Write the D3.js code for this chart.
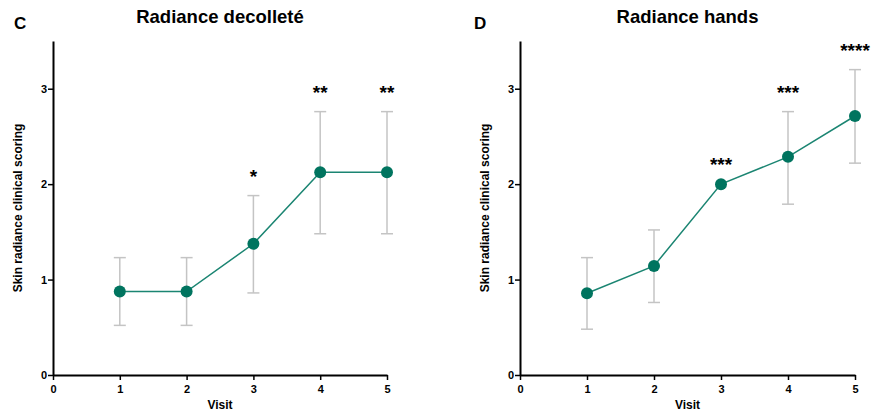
<!DOCTYPE html>
<html>
<head>
<meta charset="utf-8">
<script src="https://cdn.jsdelivr.net/npm/d3@7"></script>
<style>
  body { margin: 0; background: #fff; }
  svg { display: block; font-family: "Liberation Sans", Arial, sans-serif; }
</style>
</head>
<body>
<div id="chart"></div>
<script>
// visits on the x axis
var visits = [1, 2, 3, 4, 5];

// panel C - radiance decollete
var decolleteMean = [0.875, 0.875, 1.375, 2.125, 2.125];
var decolleteLow  = [0.52, 0.52, 0.86, 1.48, 1.48];
var decolleteHigh = [1.23, 1.23, 1.88, 2.76, 2.76];
var decolleteStars = ['', '', '*', '**', '**'];

// panel D - radiance hands
var handsMean = [0.857, 1.143, 2.0, 2.286, 2.714];
var handsLow  = [0.48, 0.76, 2.0, 1.79, 2.22];
var handsHigh = [1.23, 1.52, 2.0, 2.76, 3.2];
var handsStars = ['', '', '***', '***', '****'];

var xTicks = [0, 1, 2, 3, 4, 5];
var yTicks = [0, 1, 2, 3];

var width = 880, height = 413;
var svg = d3.select('#chart').append('svg')
	.attr('width', width)
	.attr('height', height);

var panels = [
	{ letter: 'C', title: 'Radiance decolleté', mean: decolleteMean, low: decolleteLow, high: decolleteHigh, stars: decolleteStars, left: 53, right: 387, letterX: 14, labelX: 18 },
	{ letter: 'D', title: 'Radiance hands', mean: handsMean, low: handsLow, high: handsHigh, stars: handsStars, left: 520, right: 855, letterX: 474, labelX: 485 }
];

var plotTop = 41, plotBottom = 375;
var teal = '#00745f';

panels.forEach(function (p) {
	var x = d3.scaleLinear().domain([0, 5]).range([p.left, p.right]);
	var y = d3.scaleLinear().domain([0, 3.5]).range([plotBottom, plotTop]);
	var g = svg.append('g');

	// axes
	var xAxis = g.append('g')
		.attr('transform', 'translate(0,' + plotBottom + ')')
		.call(d3.axisBottom(x).tickValues(xTicks).tickSize(5).tickSizeOuter(0).tickFormat(d3.format('d')));
	var yAxis = g.append('g')
		.attr('transform', 'translate(' + p.left + ',0)')
		.call(d3.axisLeft(y).tickValues(yTicks).tickSize(5).tickSizeOuter(0).tickFormat(d3.format('d')));

	[xAxis, yAxis].forEach(function (a) {
		a.select('.domain').attr('stroke', '#000').attr('stroke-width', 2);
		a.selectAll('.tick line').attr('stroke', '#000').attr('stroke-width', 1.5);
		a.selectAll('.tick text')
			.attr('fill', '#000')
			.style('font-size', '11px')
			.style('font-weight', 'bold');
	});
	xAxis.selectAll('.tick text').attr('dy', '0.9em');
	yAxis.selectAll('.tick text').attr('x', -6);

	// error bars
	var bars = g.selectAll('.err')
		.data(visits.map(function (v, i) { return { v: v, lo: p.low[i], hi: p.high[i] }; }))
		.enter().append('g')
		.filter(function (d) { return d.hi > d.lo; });
	bars.append('line')
		.attr('x1', function (d) { return x(d.v); })
		.attr('x2', function (d) { return x(d.v); })
		.attr('y1', function (d) { return y(d.lo); })
		.attr('y2', function (d) { return y(d.hi); })
		.attr('stroke', '#c4c4c4').attr('stroke-width', 1.5);
	['lo', 'hi'].forEach(function (k) {
		bars.append('line')
			.attr('x1', function (d) { return x(d.v) - 6; })
			.attr('x2', function (d) { return x(d.v) + 6; })
			.attr('y1', function (d) { return y(d[k]); })
			.attr('y2', function (d) { return y(d[k]); })
			.attr('stroke', '#c4c4c4').attr('stroke-width', 1.5);
	});

	// mean line and dots
	var line = d3.line()
		.x(function (d, i) { return x(visits[i]); })
		.y(function (d) { return y(d); });
	g.append('path')
		.datum(p.mean)
		.attr('d', line)
		.attr('fill', 'none')
		.attr('stroke', '#1b8572')
		.attr('stroke-width', 1.5);
	g.selectAll('circle')
		.data(p.mean)
		.enter().append('circle')
		.attr('cx', function (d, i) { return x(visits[i]); })
		.attr('cy', function (d) { return y(d); })
		.attr('r', 6)
		.attr('fill', teal);

	// significance stars
	g.selectAll('.star')
		.data(p.stars)
		.enter().append('text')
		.attr('x', function (d, i) { return x(visits[i]); })
		.attr('y', function (d, i) { return y(p.high[i]) - 13; })
		.attr('text-anchor', 'middle')
		.style('font-size', '19px')
		.style('font-weight', 'bold')
		.text(function (d) { return d; });

	// titles and labels
	g.append('text')
		.attr('x', (p.left + p.right) / 2)
		.attr('y', 23)
		.attr('text-anchor', 'middle')
		.style('font-size', '18.5px')
		.style('font-weight', 'bold')
		.text(p.title);
	g.append('text')
		.attr('x', p.letterX)
		.attr('y', 29)
		.style('font-size', '17px')
		.style('font-weight', 'bold')
		.text(p.letter);
	g.append('text')
		.attr('transform', 'translate(' + (p.labelX + 4) + ',' + ((plotTop + plotBottom) / 2) + ') rotate(-90)')
		.attr('text-anchor', 'middle')
		.style('font-size', '12px')
		.style('font-weight', 'bold')
		.text('Skin radiance clinical scoring');
	g.append('text')
		.attr('x', (p.left + p.right) / 2)
		.attr('y', 409)
		.attr('text-anchor', 'middle')
		.style('font-size', '12px')
		.style('font-weight', 'bold')
		.text('Visit');
});
</script>
</body>
</html>
